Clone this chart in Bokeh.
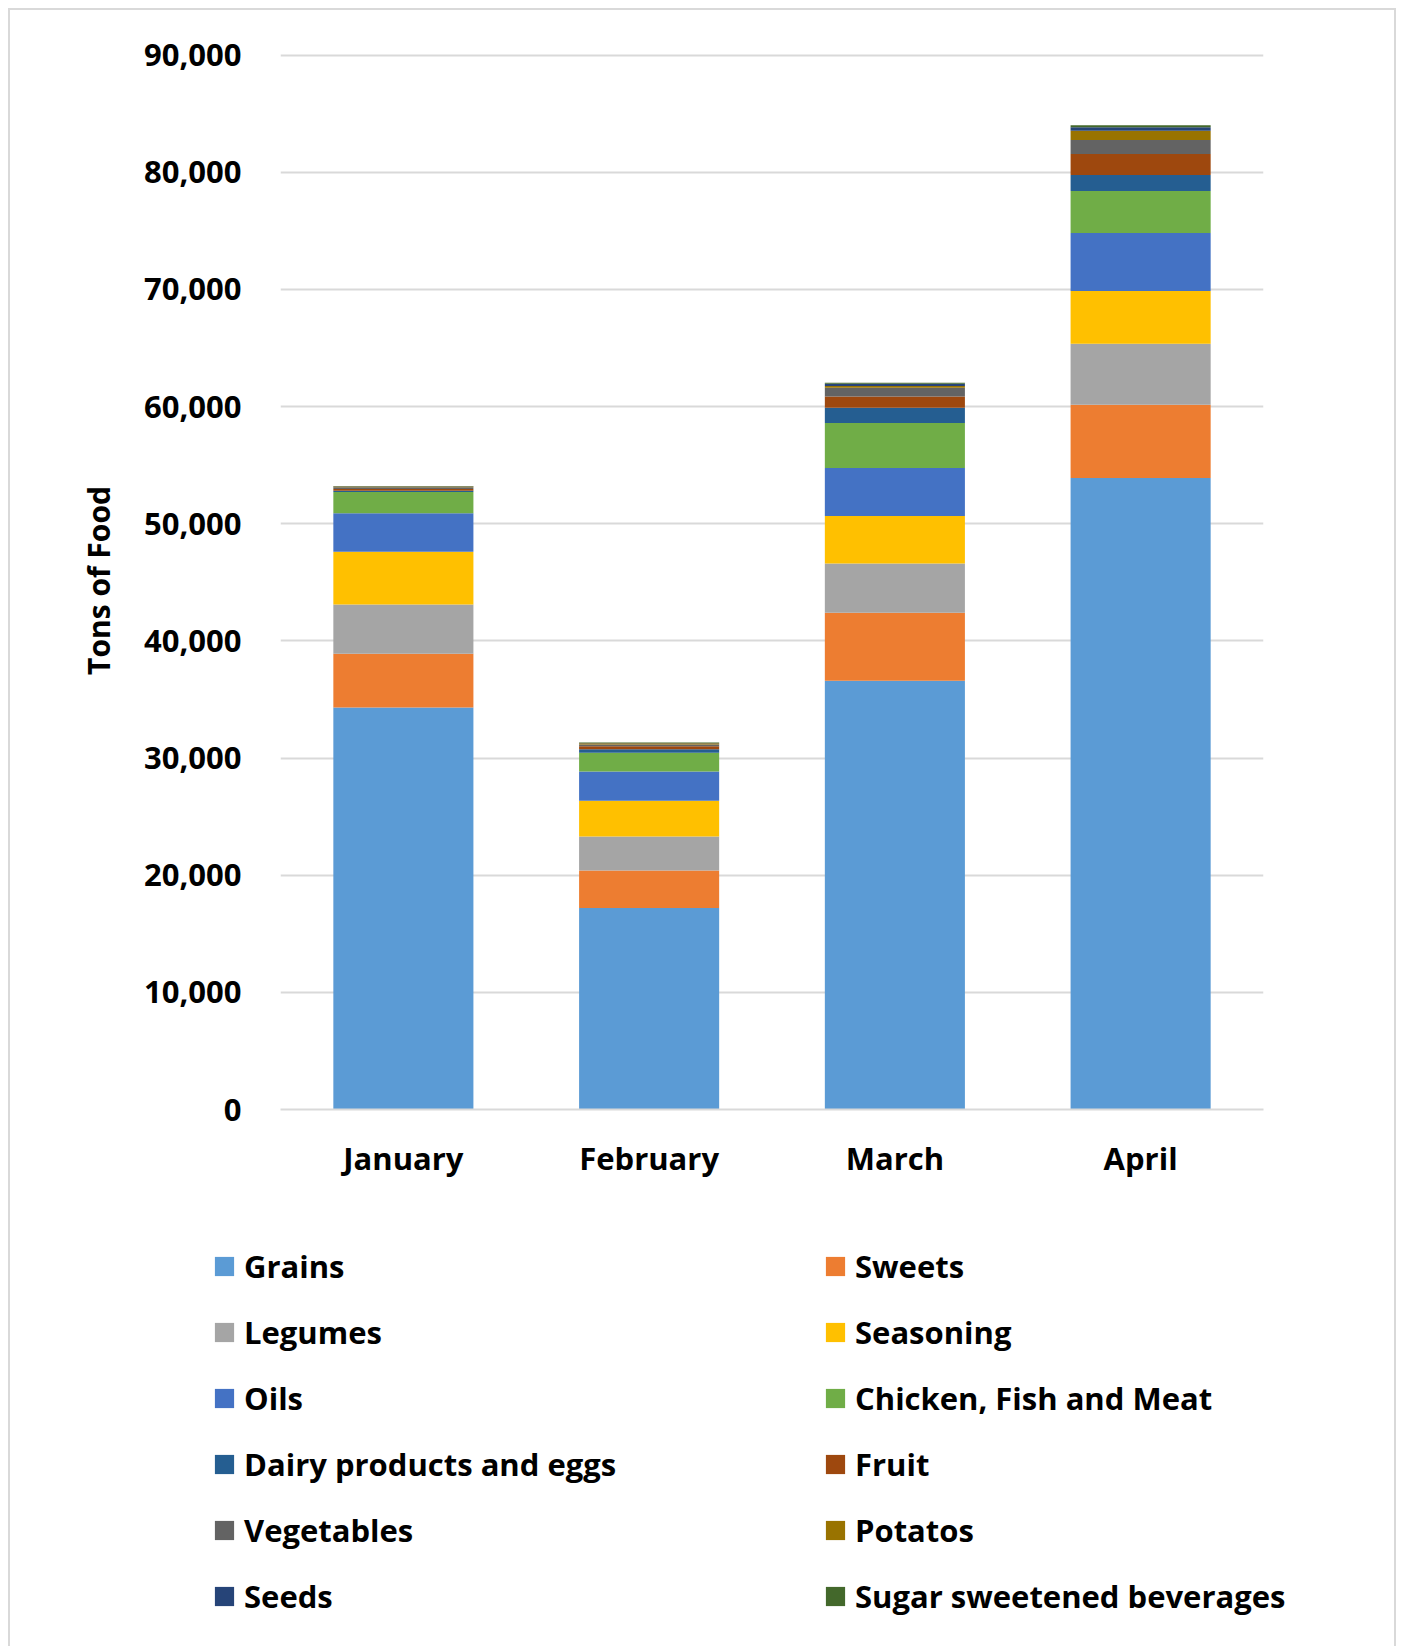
from bokeh.plotting import figure
from bokeh.layouts import column
from bokeh.models import (FactorRange, Range1d, FixedTicker, NumeralTickFormatter,
                          Legend, LegendItem)
from bokeh.embed import file_html
from bokeh.resources import INLINE

months = ["January", "February", "March", "April"]
series = ["Grains", "Sweets", "Legumes", "Seasoning", "Oils",
          "Chicken, Fish and Meat", "Dairy products and eggs", "Fruit",
          "Vegetables", "Potatos", "Seeds", "Sugar sweetened beverages"]
colors = ["#5B9BD5", "#ED7D31", "#A5A5A5", "#FFC000", "#4472C4", "#70AD47",
          "#255E91", "#9E480E", "#636363", "#997300", "#264478", "#43682B"]

grains = [34300, 17200, 36600, 53900]
sweets = [4600, 3200, 5800, 6250]
legumes = [4200, 2900, 4200, 5200]
seasoning = [4500, 3050, 4050, 4500]
oils = [3300, 2500, 4100, 4950]
chicken = [1800, 1600, 3850, 3600]
dairy = [120, 300, 1300, 1350]
fruit = [150, 250, 950, 1800]
vegetables = [130, 150, 750, 1200]
potatos = [80, 100, 150, 780]
seeds = [20, 40, 200, 300]
sugar = [20, 30, 80, 170]

yticks = [0, 10000, 20000, 30000, 40000, 50000, 60000, 70000, 80000, 90000]

values = [grains, sweets, legumes, seasoning, oils, chicken, dairy, fruit,
          vegetables, potatos, seeds, sugar]
keys = ["s%d" % i for i in range(len(series))]
data = {"month": months}
for k, v in zip(keys, values):
    data[k] = v

FONT = "Open Sans"
W = 1384
H1 = 1200
H2 = 436

p = figure(x_range=FactorRange(*months), y_range=Range1d(0, 90300),
           width=W, height=H1, output_backend="svg", toolbar_location=None,
           min_border_left=270, min_border_right=131, min_border_top=41,
           min_border_bottom=H1 - 1099)
p.frame_align = False

p.vbar_stack(keys, x="month", width=0.57, source=data, color=colors,
             line_color=None)

p.outline_line_color = None
p.xgrid.grid_line_color = None
p.ygrid.grid_line_color = "#D9D9D9"
p.ygrid.grid_line_width = 2
p.ygrid.ticker = FixedTicker(ticks=yticks)

p.yaxis.ticker = FixedTicker(ticks=yticks)
p.yaxis.formatter = NumeralTickFormatter(format="0,0")
p.yaxis.axis_line_color = None
p.yaxis.major_tick_line_color = None
p.yaxis.minor_tick_line_color = None
p.yaxis.major_label_standoff = 33
p.yaxis.major_label_text_font = FONT
p.yaxis.major_label_text_font_style = "bold"
p.yaxis.major_label_text_font_size = "31px"
p.yaxis.major_label_text_color = "#000000"
p.yaxis.axis_label = "Tons of Food"
p.yaxis.axis_label_text_font = FONT
p.yaxis.axis_label_text_font_style = "bold"
p.yaxis.axis_label_text_font_size = "30px"
p.yaxis.axis_label_text_color = "#000000"
p.yaxis.axis_label_standoff = 22

p.xaxis.axis_line_color = "#D9D9D9"
p.xaxis.axis_line_width = 2
p.xaxis.major_tick_line_color = None
p.xaxis.minor_tick_line_color = None
p.xaxis.major_label_standoff = 21
p.xaxis.major_label_text_font = FONT
p.xaxis.major_label_text_font_style = "bold"
p.xaxis.major_label_text_font_size = "31px"
p.xaxis.major_label_text_color = "#000000"

# legend panel
lf = figure(width=W, height=H2, output_backend="svg", toolbar_location=None,
            x_range=Range1d(0, W), y_range=Range1d(0, H2),
            x_axis_location=None, y_axis_location=None,
            min_border=0, min_border_left=0, min_border_right=0,
            min_border_top=0, min_border_bottom=0)
lf.frame_align = False
lf.outline_line_color = None
lf.grid.grid_line_color = None
swatches = [lf.vbar(x=[-1000], top=[-1000], bottom=[-2000], width=1, color=c,
                    line_color=None)
            for c in colors]

left_idx = [0, 2, 4, 6, 8, 10]
right_idx = [1, 3, 5, 7, 9, 11]

def make_legend(idx, x):
    items = [LegendItem(label=series[i], renderers=[swatches[i]]) for i in idx]
    return Legend(items=items, location=(x, 29), orientation="vertical",
                  padding=0, margin=0, spacing=24, border_line_color=None,
                  background_fill_alpha=0, glyph_width=24, glyph_height=24,
                  label_height=42, label_standoff=8,
                  label_text_font=FONT, label_text_font_style="bold",
                  label_text_font_size="31px", label_text_color="#000000",
                  label_text_baseline="middle")

lf.add_layout(make_legend(left_idx, 202))
lf.add_layout(make_legend(right_idx, 813))

page = column(p, lf, spacing=0)
page.styles = {"border": "2px solid #D9D9D9", "margin-left": "8px",
               "margin-top": "8px"}

open("out.html", "w").write(file_html(page, INLINE))
